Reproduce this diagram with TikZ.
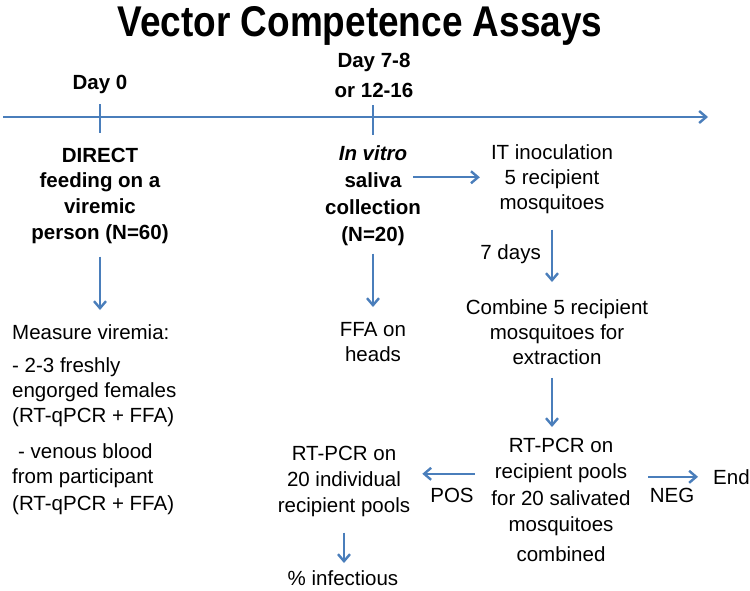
\documentclass[tikz,border=0pt]{standalone}
\usepackage{fontspec}
\setmainfont{Liberation Sans}
\usetikzlibrary{arrows.meta,positioning}
\definecolor{lineblue}{RGB}{74,126,187}

\begin{document}
\begin{tikzpicture}[x=1pt,y=-1pt]
	\tikzstyle{main}=[inner sep=0pt, align=center, font=\fontsize{20.5}{25}\selectfont]
	\tikzstyle{head}=[main, font=\bfseries\fontsize{20.5}{25.7}\selectfont]
	\tikzstyle{connect}=[-{Straight Barb[length=7pt,width=12pt]}, line width=2.4pt, draw=lineblue]
	\tikzstyle{tick}=[line width=2.4pt, draw=lineblue]
	\useasboundingbox (0,0) rectangle (750,590);
	\node[main, anchor=north, font=\bfseries\fontsize{43}{43}\selectfont] (title) at (360,6) {\scalebox{0.86}[1]{Vector Competence Assays}};
	\node[head, anchor=north] (day0) at (100,74.6) {Day 0};
	\node[head, anchor=north, font=\bfseries\fontsize{20.5}{30}\selectfont] (day7) at (374,52.6) {Day 7-8\\or 12-16};
	\coordinate (t0) at (3,117);
	\coordinate (t1) at (708,117);
	\draw[connect] (t0) -- (t1);
	\draw[tick] (100,104) -- (100,133);
	\draw[tick] (373,105) -- (373,135);
	\node[head, anchor=north] (direct) at (100,147.6) {DIRECT\\feeding on a\\viremic\\person (N=60)};
	\node[main, anchor=north west, align=left] (measure) at (12,324.6) {Measure viremia:\\[7.5pt]- 2-3 freshly\\engorged females\\(RT-qPCR + FFA)\\[11.5pt]\hspace*{6pt}- venous blood\\from participant\\[1.5pt](RT-qPCR + FFA)};
	\node[head, anchor=north, font=\bfseries\fontsize{20.5}{27}\selectfont] (invitro) at (373,145.6) {\textit{In vitro}\\saliva\\collection\\(N=20)};
	\node[main, anchor=north] (ffa) at (373,322.6) {FFA on\\heads};
	\node[main, anchor=north] (itin) at (552,144.6) {IT inoculation\\5 recipient\\mosquitoes};
	\node[main, anchor=east] (days) at (541,254) {7 days};
	\node[main, anchor=north] (combine) at (557,299.6) {Combine 5 recipient\\mosquitoes for\\extraction};
	\node[main, anchor=north, font=\fontsize{20.5}{26.5}\selectfont] (pools) at (561,437.6) {RT-PCR on\\recipient pools\\for 20 salivated\\mosquitoes\\[3.5pt]combined};
	\node[main] (pos) at (452,495) {POS};
	\node[main] (neg) at (672,495) {NEG};
	\node[main, anchor=west] (end) at (713,477) {End};
	\node[main, anchor=north, font=\fontsize{20.5}{26}\selectfont] (single) at (344,445.6) {RT-PCR on\\20 individual\\recipient pools};
	\node[main, anchor=north] (infect) at (343,570.5) {\% infectious};
	\path (direct.south) edge [connect, shorten <=13pt, shorten >=14.6pt] (direct.south |- measure.north)
	(invitro.south) edge [connect, shorten <=7.4pt, shorten >=15.6pt] (invitro.south |- ffa.north)
	([yshift=18.6pt]invitro.east) edge [connect, shorten <=-8pt, shorten >=11pt] ([yshift=18.6pt]invitro.east -| itin.west)
	(itin.south) edge [connect, shorten <=15.4pt, shorten >=17.6pt] (itin.south |- combine.north)
	(combine.south -| itin.south) edge [connect, shorten <=12.7pt, shorten >=10.6pt] (pools.north -| itin.south)
	([yshift=26pt]pools.west) edge [connect, shorten <=16.4pt, shorten >=12pt] ([yshift=26pt]pools.west -| single.east)
	([yshift=23pt]pools.east) edge [connect, shorten <=17.4pt, shorten >=15pt] ([yshift=23pt]pools.east -| end.west)
	(single.south) edge [connect, shorten <=16pt, shorten >=7.5pt] (single.south |- infect.north);
\end{tikzpicture}
\end{document}
